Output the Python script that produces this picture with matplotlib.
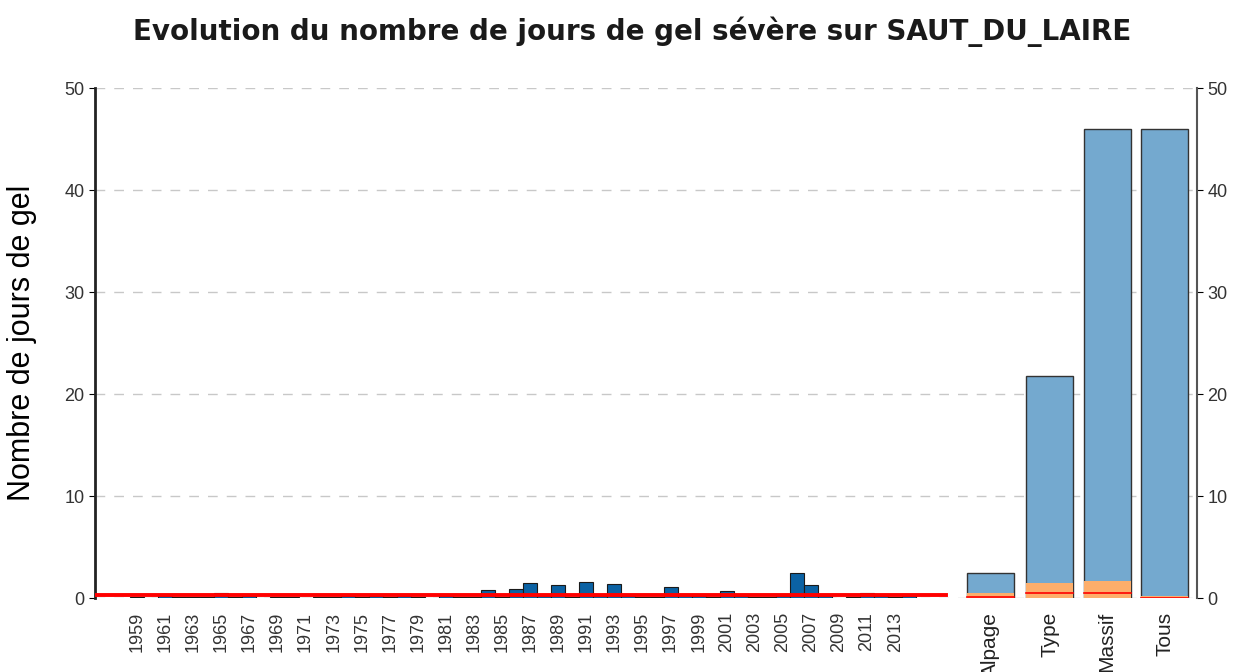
import numpy as np
import matplotlib.pyplot as plt

# yearly values of severe frost days
years = list(range(1959, 2015))
jours = [0.1, 0.0, 0.2, 0.1, 0.1, 0.1, 0.5, 0.1, 0.2, 0.0,
         0.1, 0.1, 0.0, 0.1, 0.1, 0.2, 0.1, 0.2, 0.1, 0.2,
         0.1, 0.0, 0.2, 0.1, 0.1, 0.8, 0.1, 0.9, 1.5, 0.2,
         1.3, 0.1, 1.6, 0.2, 1.4, 0.2, 0.1, 0.1, 1.1, 0.3,
         0.2, 0.1, 0.7, 0.2, 0.1, 0.1, 0.2, 2.5, 1.3, 0.2,
         0.0, 0.1, 0.5, 0.2, 0.1, 0.2]

# aggregated categories
categories = ['Alpage', 'Type', 'Massif', 'Tous']
cat_total = [2.5, 21.8, 46.0, 46.0]
cat_low = [0.5, 1.5, 1.7, 0.2]
cat_mean = [0.1, 0.5, 0.5, 0.05]
moyenne = 0.3

plt.rcParams['font.family'] = ['Liberation Sans', 'DejaVu Sans']

fig = plt.figure(figsize=(12.34, 6.72), dpi=100)
ax = fig.add_axes([0.077, 0.110, 0.893, 0.759])

# year bars
ax.bar(years, jours, width=1.0, color='#0b62a4', edgecolor='#1a1a1a', linewidth=0.8, zorder=3)

# category bars on the right
cat_x = [2019.8, 2024.0, 2028.1, 2032.2]
w = 3.35
ax.bar(cat_x, cat_total, width=w, color='#74a9cf', edgecolor='#333333', linewidth=1.0, zorder=3)
ax.bar(cat_x, cat_low, width=w, color='#fdae6b', edgecolor='none', zorder=4)
for x, m in zip(cat_x, cat_mean):
    ax.plot([x - w / 2, x + w / 2], [m, m], color='red', linewidth=1.2, zorder=5)

# red mean line
ax.plot([1956.0, 2016.6], [moyenne, moyenne], color='red', linewidth=2.8, zorder=6)

ax.set_xlim(1956.0, 2034.5)
ax.set_ylim(0, 50)

ax.set_yticks([0, 10, 20, 30, 40, 50])
ax.yaxis.grid(True, linestyle=(0, (7, 6.5)), color='#c8c8c8', linewidth=1.0, zorder=0)
ax.tick_params(axis='y', labelsize=13, labelcolor='#333333', length=4,
               right=True, labelright=True)

tick_years = years[::2][:28]
ax.set_xticks(tick_years + cat_x)
labels = [str(y) for y in tick_years] + categories
ax.set_xticklabels(labels, rotation=90)
for lab in ax.get_xticklabels()[:len(tick_years)]:
    lab.set_fontsize(13)
    lab.set_color('#333333')
for lab in ax.get_xticklabels()[len(tick_years):]:
    lab.set_fontsize(15)
    lab.set_color('#222222')
ax.tick_params(axis='x', length=0, pad=10)

ax.spines['top'].set_visible(False)
ax.spines['bottom'].set_visible(False)
ax.spines['left'].set_linewidth(2.0)
ax.spines['left'].set_color('#222222')
ax.spines['right'].set_color('#555555')
ax.spines['right'].set_linewidth(1.5)

ax.set_ylabel('Nombre de jours de gel', fontsize=22, labelpad=20)
fig.suptitle('Evolution du nombre de jours de gel sévère sur SAUT_DU_LAIRE',
             fontsize=20, fontweight='bold', family='DejaVu Sans',
             x=0.512, y=0.975, color='#1a1a1a')

fig.savefig('out.png', dpi=100)
